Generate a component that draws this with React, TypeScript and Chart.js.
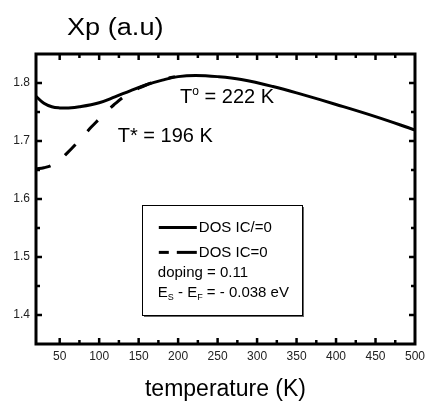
import React, { useEffect, useRef } from 'react';
import { Chart, registerables } from 'chart.js';

Chart.register(...registerables);

const FONT = '"Liberation Sans", Arial, Helvetica, sans-serif';

// Solid curve: DOS IC/=0
const tempsSolid = [20, 30, 40, 50, 60, 75, 100, 120, 140, 160, 180, 200, 222, 250, 280, 320, 360, 400, 450, 500];
const dosIcNonZero = [1.777, 1.765, 1.759, 1.757, 1.757, 1.759, 1.766, 1.776, 1.787, 1.797, 1.805, 1.811, 1.813, 1.811, 1.806, 1.794, 1.779, 1.763, 1.742, 1.719];

// Dashed curve: DOS IC=0
const tempsDashed = [20, 30, 40, 50, 60, 70, 80, 90, 100, 110, 120, 130, 140, 150, 160, 170, 180, 196];
const dosIcZero = [1.652, 1.654, 1.658, 1.667, 1.68, 1.694, 1.709, 1.724, 1.738, 1.752, 1.764, 1.775, 1.784, 1.791, 1.797, 1.802, 1.806, 1.811];

const xTickValues = [50, 100, 150, 200, 250, 300, 350, 400, 450, 500];
const xMinorTicks = [75, 125, 175, 225, 275, 325, 375, 425, 475];
const yTickValues = [1.4, 1.5, 1.6, 1.7, 1.8];
const yMinorTicks = [1.45, 1.55, 1.65, 1.75];

const titleText = 'Xp (a.u)';
const xTitleText = 'temperature (K)';
const legendSolidLabel = 'DOS IC/=0';
const legendDashedLabel = 'DOS IC=0';
const dopingLabel = 'doping = 0.11';
const tStarLabel = { value: 196, pos: [123.5, 1.698] };
const tZeroLabel = { value: 222, pos: [202.5, 1.765] };

type Run = { text: string; size: number; dy: number };

function drawRuns(ctx: CanvasRenderingContext2D, x: number, y: number, runs: Run[]) {
  let cx = x;
  for (const r of runs) {
    ctx.font = `${r.size}px ${FONT}`;
    ctx.fillText(r.text, cx, y + r.dy);
    cx += ctx.measureText(r.text).width;
  }
}

const decorPlugin = {
  id: 'decor',
  afterDatasetsDraw(chart: any) {
    const { ctx, chartArea: a, scales } = chart;
    const xs = scales.x;
    const ys = scales.y;
    ctx.save();
    ctx.strokeStyle = '#000';
    ctx.fillStyle = '#000';
    ctx.lineCap = 'butt';

    const line = (x1: number, y1: number, x2: number, y2: number) => {
      ctx.beginPath();
      ctx.moveTo(x1, y1);
      ctx.lineTo(x2, y2);
      ctx.stroke();
    };

    // ticks (inward on all four sides)
    ctx.lineWidth = 2.5;
    const xt = (vals: number[], len: number) => {
      for (const v of vals) {
        const px = xs.getPixelForValue(v);
        if (px <= a.left + 2 || px >= a.right - 2) continue;
        line(px, a.bottom, px, a.bottom - len);
        line(px, a.top, px, a.top + len);
      }
    };
    const yt = (vals: number[], len: number) => {
      for (const v of vals) {
        const py = ys.getPixelForValue(v);
        if (py <= a.top + 2 || py >= a.bottom - 2) continue;
        line(a.left, py, a.left + len, py);
        line(a.right, py, a.right - len, py);
      }
    };
    xt(xTickValues, 6);
    xt(xMinorTicks, 4);
    yt(yTickValues, 6);
    yt(yMinorTicks, 4);

    // frame
    ctx.lineWidth = 3;
    ctx.strokeRect(a.left, a.top, a.right - a.left, a.bottom - a.top);

    // title
    ctx.save();
    ctx.textBaseline = 'alphabetic';
    ctx.textAlign = 'left';
    ctx.font = `23px ${FONT}`;
    ctx.translate(a.left + 31, a.top - 19);
    ctx.scale(1.18, 1);
    ctx.fillText(titleText, 0, 0);
    ctx.restore();

    // annotations
    ctx.textBaseline = 'alphabetic';
    ctx.textAlign = 'left';
    drawRuns(ctx, xs.getPixelForValue(tZeroLabel.pos[0]), ys.getPixelForValue(tZeroLabel.pos[1]), [
      { text: 'T', size: 20, dy: 0 },
      { text: 'o', size: 12, dy: -8 },
      { text: ` = ${tZeroLabel.value} K`, size: 20, dy: 0 },
    ]);
    drawRuns(ctx, xs.getPixelForValue(tStarLabel.pos[0]), ys.getPixelForValue(tStarLabel.pos[1]), [
      { text: `T* = ${tStarLabel.value} K`, size: 20, dy: 0 },
    ]);

    // legend box
    const bx = xs.getPixelForValue(154);
    const bx2 = xs.getPixelForValue(357);
    const by = ys.getPixelForValue(1.589);
    const by2 = ys.getPixelForValue(1.4);
    ctx.fillStyle = '#fff';
    ctx.fillRect(bx, by, bx2 - bx, by2 - by);
    ctx.fillStyle = '#000';
    ctx.lineWidth = 1;
    ctx.strokeRect(Math.round(bx) + 0.5, Math.round(by) + 0.5, Math.round(bx2 - bx), Math.round(by2 - by));
    ctx.strokeStyle = '#666';
    line(Math.round(bx2) + 1.5, Math.round(by) + 2, Math.round(bx2) + 1.5, Math.round(by2) + 2);
    line(Math.round(bx) + 2, Math.round(by2) + 1.5, Math.round(bx2) + 2, Math.round(by2) + 1.5);
    ctx.strokeStyle = '#000';

    ctx.lineWidth = 3;
    line(bx + 17, by + 22, bx + 55, by + 22);
    line(bx + 17, by + 47, bx + 27, by + 47);
    line(bx + 35, by + 47, bx + 55, by + 47);

    ctx.textBaseline = 'middle';
    ctx.font = `15px ${FONT}`;
    ctx.fillText(legendSolidLabel, bx + 57, by + 22);
    ctx.fillText(legendDashedLabel, bx + 57, by + 47);
    ctx.fillText(dopingLabel, bx + 16, by + 67);
    drawRuns(ctx, bx + 16, by + 87, [
      { text: 'E', size: 15, dy: 0 },
      { text: 'S', size: 9, dy: 5 },
      { text: ' - E', size: 15, dy: 0 },
      { text: 'F', size: 9, dy: 5 },
      { text: ' = - 0.038 eV', size: 15, dy: 0 },
    ]);

    ctx.restore();
  },
};

export default function App() {
  const ref = useRef<HTMLCanvasElement>(null);

  useEffect(() => {
    document.body.style.margin = '0';
    const canvas = ref.current;
    if (!canvas) return;
    Chart.defaults.font.family = FONT;
    const chart = new Chart(canvas, {
      type: 'line',
      data: {
        datasets: [
          {
            label: legendSolidLabel,
            data: tempsSolid.map((t, i) => ({ x: t, y: dosIcNonZero[i] })),
            borderColor: '#000',
            borderWidth: 3,
            pointRadius: 0,
            fill: false,
            tension: 0.4,
          },
          {
            label: legendDashedLabel,
            data: tempsDashed.map((t, i) => ({ x: t, y: dosIcZero[i] })),
            borderColor: '#000',
            borderWidth: 3,
            borderDash: [15, 18],
            pointRadius: 0,
            fill: false,
            tension: 0.4,
          },
        ],
      },
      options: {
        animation: false,
        responsive: false,
        devicePixelRatio: 1,
        layout: { padding: { top: 54, right: 10, left: 0, bottom: 0 } },
        plugins: { legend: { display: false }, tooltip: { enabled: false } },
        scales: {
          x: {
            type: 'linear',
            min: 20,
            max: 500,
            afterBuildTicks: (s: any) => {
              s.ticks = xTickValues.map((v) => ({ value: v }));
            },
            afterFit: (s: any) => {
              s.height = 59;
            },
            grid: { display: false, drawTicks: false },
            border: { display: false },
            ticks: {
              padding: 5,
              color: '#222',
              font: { size: 12, family: FONT },
              maxRotation: 0,
              callback: (v: any) => String(v),
            },
            title: {
              display: true,
              text: xTitleText,
              color: '#000',
              font: { size: 23, family: FONT },
              padding: { top: 0, bottom: 0 },
            },
          },
          y: {
            type: 'linear',
            min: 1.35,
            max: 1.85,
            afterBuildTicks: (s: any) => {
              s.ticks = yTickValues.map((v) => ({ value: v }));
            },
            afterFit: (s: any) => {
              s.width = 36;
            },
            grid: { display: false, drawTicks: false },
            border: { display: false },
            ticks: {
              padding: 6,
              color: '#222',
              font: { size: 12, family: FONT },
              callback: (v: any) => Number(v).toFixed(1),
            },
          },
        },
      },
      plugins: [decorPlugin],
    } as any);
    return () => chart.destroy();
  }, []);

  return (
    <div style={{ width: 430, height: 403, background: '#fff' }}>
      <canvas ref={ref} width={430} height={403} />
    </div>
  );
}
